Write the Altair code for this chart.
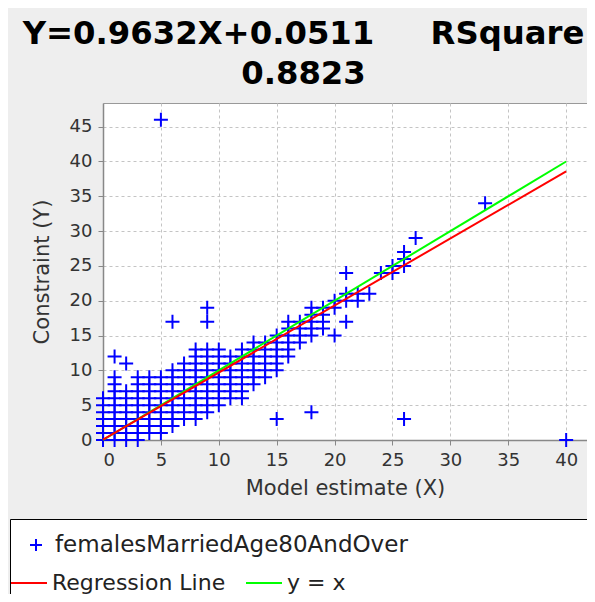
import altair as alt
import pandas as pd

# ---- text ----
title_lines = ["Y=0.9632X+0.0511\u00a0\u00a0\u00a0\u00a0\u00a0RSquare", "\u00a0\u00a00.8823"]
x_title = "Model estimate (X)"
y_title = "Constraint (Y)"
series_name = "femalesMarriedAge80AndOver"
reg_name = "Regression Line"
ident_name = "y = x"

# ---- regression ----
slope = 0.9632
intercept = 0.0511
line_x = [0, 40]

# ---- ticks ----
x_ticks = [0, 5, 10, 15, 20, 25, 30, 35, 40]
y_ticks = [0, 5, 10, 15, 20, 25, 30, 35, 40, 45]

# ---- scatter data: model estimate (x) and the constraint values (y) seen at it ----
col_x = [0, 1, 2, 3, 4, 5, 6, 7, 8, 9, 10, 11, 12, 13, 14, 15, 16, 17, 18, 19,
         20, 21, 22, 23, 24, 25, 26, 27, 33, 40]
col_y = [
    [0, 1, 2, 3, 4, 5, 6],
    [0, 1, 2, 3, 4, 5, 6, 7, 8, 9, 12],
    [0, 1, 2, 3, 4, 5, 6, 7, 11],
    [0, 1, 2, 3, 4, 5, 6, 7, 8, 9],
    [1, 2, 3, 4, 5, 6, 7, 8, 9],
    [1, 2, 3, 4, 5, 6, 7, 8, 9, 46],
    [2, 3, 4, 5, 6, 7, 8, 9, 10, 17],
    [3, 4, 5, 6, 7, 8, 9, 10, 11],
    [3, 4, 5, 6, 7, 8, 9, 10, 11, 12, 13],
    [4, 5, 6, 7, 8, 9, 10, 11, 12, 13, 17, 19],
    [5, 6, 7, 8, 9, 10, 11, 12, 13],
    [6, 7, 8, 9, 10, 11, 12],
    [6, 7, 8, 9, 10, 11, 12, 13],
    [8, 9, 10, 11, 12, 13, 14],
    [9, 10, 11, 12, 13, 14],
    [3, 10, 11, 12, 13, 14, 15],
    [12, 13, 14, 15, 16, 17],
    [14, 15, 16, 17],
    [4, 15, 16, 17, 18, 19],
    [16, 17, 18, 19],
    [15, 19, 20],
    [17, 20, 21, 24],
    [20, 21],
    [21],
    [24],
    [24, 25],
    [3, 25, 26, 27],
    [29],
    [34],
    [0],
]

# invisible legend entries that only stretch the white legend box
WIDEN = "\u2800" * 7       # blank braille: widens row 1 to the right edge
SPACER = "legend_spacer"   # unlabeled second row: the line legend sits on it

rows = []
for cx, ys in zip(col_x, col_y):
    for cy in ys:
        rows.append({"x": cx, "y": cy, "pt": series_name})
df_points = pd.DataFrame(rows)

df_ident = pd.DataFrame({"x": line_x, "y": line_x, "ls": ident_name})
df_reg = pd.DataFrame({"x": line_x,
                       "y": [slope * v + intercept for v in line_x],
                       "ls": reg_name})

PLUS = "M-0.5,0L0.5,0M0,-0.5L0,0.5"
EMPTY = "M0,0L0,0"
FONT = "DejaVu Sans"

legend_pts = alt.Legend(
    title=None, orient="none", legendX=-93, legendY=416,
    direction="horizontal", columns=2,
    symbolSize=576, symbolStrokeColor="#0000FF", symbolFillColor="transparent",
    symbolStrokeWidth=2, symbolOpacity=1,
    labelFont=FONT, labelFontSize=23, labelColor="#222222", labelLimit=3000, labelOffset=6,
    labelExpr=f"datum.value == '{SPACER}' ? '' : datum.label",
    padding=13, rowPadding=10, columnPadding=25,
    fillColor="white", strokeColor="black", zindex=0,
)
legend_lines = alt.Legend(
    title=None, orient="none", legendX=-93, legendY=461, direction="horizontal",
    symbolType="stroke", symbolSize=1296, symbolStrokeWidth=2, symbolOpacity=1,
    labelFont=FONT, labelFontSize=22, labelColor="#222222", labelLimit=2000, labelOffset=4,
    padding=0, columnPadding=16, zindex=1,
)

x_scale = alt.Scale(domain=[0, 41.8], nice=False, zero=False)
y_scale = alt.Scale(domain=[0, 48.4], nice=False, zero=False)
x_axis = alt.Axis(values=x_ticks, title=x_title, format="d", labelOverlap=False)
y_axis = alt.Axis(values=y_ticks, title=y_title, format="d", labelOverlap=False,
                  titlePadding=17)
xenc = alt.X("x:Q", scale=x_scale, axis=x_axis)
yenc = alt.Y("y:Q", scale=y_scale, axis=y_axis)
line_color = alt.Color("ls:N",
                       scale=alt.Scale(domain=[reg_name, ident_name], range=["#FF0000", "#00FF00"]),
                       legend=legend_lines)

points = alt.Chart(df_points).mark_point(
    filled=False, size=784, strokeWidth=2, opacity=1, color="#0000FF"
).encode(
    x=xenc, y=yenc,
    shape=alt.Shape("pt:N",
                    scale=alt.Scale(domain=[series_name, WIDEN, SPACER], range=[PLUS, EMPTY, EMPTY]),
                    legend=legend_pts),
)

ident = alt.Chart(df_ident).mark_line(strokeWidth=2).encode(x=xenc, y=yenc, color=line_color)
reg = alt.Chart(df_reg).mark_line(strokeWidth=2).encode(x=xenc, y=yenc, color=line_color)

chart = alt.layer(points, ident, reg).properties(
    width=484, height=337,
    title=alt.TitleParams(text=title_lines, font=FONT, fontSize=32.3, fontWeight="bold",
                          color="black", anchor="middle", dx=-41.5, lineHeight=40, offset=13),
    autosize=alt.AutoSizeParams(type="none"),
    padding={"left": 95, "top": 95, "right": 0, "bottom": 154},
    background="#EEEEEE",
).configure_view(
    fill="white", stroke="#999999"
).configure_axis(
    labelFont=FONT, labelFontSize=18, labelColor="#333333", labelOverlap=False,
    titleFont=FONT, titleFontSize=21, titleFontWeight="normal", titleColor="#333333",
    grid=True, gridColor="#C4C4C4", gridDash=[3, 3], gridWidth=1,
    domainColor="#888888", domainWidth=1.5, tickColor="#888888", tickSize=5,
    labelPadding=6, titlePadding=8,
)

chart.save("out.html", embed_options={"renderer": "svg", "actions": False})
